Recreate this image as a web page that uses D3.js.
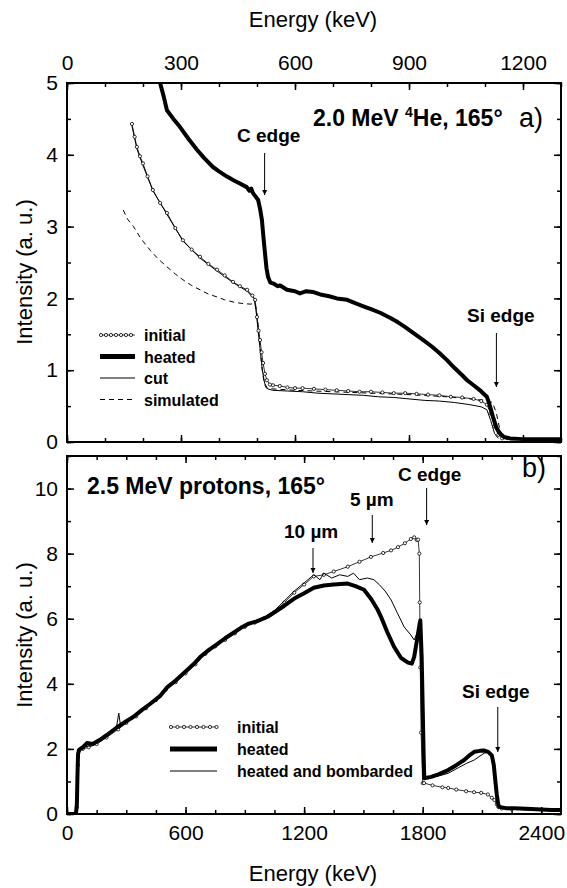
<!DOCTYPE html>
<meta charset="utf-8">
<style>
body { margin: 0; background: #fff; }
svg { font-family: "Liberation Sans", Arial, sans-serif; }
.frame { fill: none; stroke: #000; stroke-width: 2; }
.axis path { display: none; }
.axis line { stroke: #000; stroke-width: 1.5; }
.axis text { fill: #000; font-family: "Liberation Sans", Arial, sans-serif; }
.lbl { font-size: 22px; }
.bold { font-weight: bold; }
.leg { font-size: 16px; font-weight: bold; }
</style>
<svg width="567" height="888"></svg>
<script src="https://d3js.org/d3.v7.min.js"></script>
<script>
// panel a: 2.0 MeV 4He (energy keV, intensity a.u.)
var heatedA = [[245,5.0],[255,4.8],[263,4.62],[280,4.50],[297,4.39],[320,4.22],[342,4.07],[360,3.96],[384,3.83],[400,3.77],[420,3.70],[437,3.65],[455,3.60],[473,3.55],[480,3.50],[485,3.53],[489,3.47],[503,3.37],[508,3.25],[513,3.09],[517,2.85],[521,2.63],[525,2.42],[529,2.30],[535,2.22],[542,2.21],[555,2.17],[561,2.18],[579,2.12],[600,2.10],[613,2.07],[630,2.10],[647,2.09],[670,2.05],[690,2.03],[710,2.00],[737,1.98],[760,1.93],[780,1.89],[800,1.85],[824,1.80],[850,1.73],[870,1.67],[890,1.60],[911,1.52],[935,1.43],[960,1.33],[980,1.24],[1000,1.14],[1020,1.03],[1040,0.93],[1053,0.86],[1070,0.79],[1087,0.72],[1095,0.68],[1105,0.63],[1112,0.52],[1121,0.35],[1130,0.20],[1139,0.12],[1150,0.07],[1166,0.05],[1200,0.04],[1250,0.04],[1300,0.04]];
var initialA = [[171,4.43],[178,4.25],[184,4.11],[192,3.98],[200,3.88],[212,3.70],[226,3.51],[245,3.33],[263,3.19],[285,2.98],[305,2.81],[328,2.68],[350,2.58],[372,2.48],[395,2.40],[415,2.32],[437,2.23],[455,2.17],[474,2.12],[488,2.04],[495,1.98],[500,1.74],[504,1.55],[508,1.42],[512,1.25],[516,1.10],[521,0.95],[526,0.86],[534,0.80],[542,0.79],[560,0.78],[580,0.76],[600,0.75],[620,0.75],[650,0.74],[680,0.73],[710,0.72],[740,0.71],[770,0.70],[800,0.70],[830,0.69],[860,0.68],[890,0.68],[920,0.67],[950,0.66],[980,0.65],[1010,0.63],[1040,0.62],[1070,0.60],[1090,0.57],[1105,0.52],[1115,0.40],[1125,0.22],[1135,0.10],[1145,0.05]];
var cutA = [[171,4.40],[184,4.08],[200,3.85],[226,3.50],[263,3.17],[305,2.80],[350,2.56],[395,2.38],[437,2.22],[474,2.10],[492,2.00],[497,1.85],[502,1.60],[508,1.30],[514,1.00],[520,0.82],[528,0.74],[542,0.72],[580,0.71],[620,0.70],[660,0.68],[700,0.67],[740,0.66],[780,0.65],[820,0.63],[860,0.62],[900,0.60],[940,0.58],[980,0.57],[1020,0.55],[1060,0.52],[1090,0.49],[1105,0.45],[1115,0.30],[1125,0.12],[1135,0.05]];
var simA = [[148,3.23],[160,3.10],[175,3.00],[195,2.83],[219,2.67],[240,2.55],[263,2.44],[285,2.34],[305,2.26],[328,2.18],[350,2.12],[372,2.06],[395,2.02],[415,1.98],[437,1.95],[460,1.93],[482,1.92],[495,1.93],[500,1.80],[505,1.50],[510,1.20],[515,0.95],[520,0.80],[525,0.75],[540,0.74],[600,0.72],[700,0.70],[800,0.68],[900,0.66],[1000,0.63],[1060,0.60],[1100,0.58],[1120,0.55],[1130,0.40],[1138,0.20],[1148,0.06],[1160,0.03]];

// panel b: 2.5 MeV protons
var initialB = [[50,0.2],[55,1.5],[60,1.95],[80,2.0],[110,2.05],[150,2.15],[200,2.35],[259,2.6],[300,2.8],[350,3.0],[400,3.25],[450,3.5],[500,3.82],[550,4.05],[600,4.32],[650,4.6],[700,4.92],[750,5.15],[800,5.35],[850,5.55],[900,5.75],[950,5.88],[1000,6.02],[1050,6.2],[1100,6.5],[1150,6.8],[1200,7.05],[1249,7.3],[1300,7.35],[1350,7.45],[1421,7.6],[1480,7.75],[1538,7.9],[1600,8.02],[1640,8.1],[1675,8.2],[1710,8.32],[1740,8.45],[1757,8.5],[1770,8.42],[1777,8.43],[1783,8.0],[1785,6.5],[1788,4.5],[1792,2.5],[1800,0.95],[1807,0.95],[1850,0.88],[1900,0.82],[1929,0.8],[1970,0.75],[2020,0.7],[2060,0.67],[2096,0.65],[2130,0.6],[2150,0.5],[2163,0.43],[2175,0.3],[2183,0.22],[2200,0.17],[2250,0.15]];
var heatedB = [[0,0],[45,0],[50,0.3],[53,1.2],[56,1.85],[62,1.98],[80,2.05],[101,2.18],[130,2.15],[167,2.28],[200,2.42],[250,2.65],[300,2.85],[335,2.98],[380,3.2],[420,3.38],[470,3.62],[508,3.9],[550,4.1],[600,4.38],[640,4.6],[675,4.83],[720,5.05],[760,5.22],[800,5.4],[843,5.57],[880,5.72],[920,5.85],[960,5.92],[1015,6.06],[1050,6.2],[1100,6.4],[1150,6.62],[1200,6.78],[1249,6.95],[1300,7.02],[1350,7.05],[1421,7.08],[1460,7.0],[1503,6.89],[1540,6.6],[1570,6.3],[1589,6.06],[1620,5.6],[1655,5.14],[1690,4.8],[1726,4.65],[1745,4.62],[1757,4.83],[1770,5.3],[1782,5.75],[1788,5.95],[1795,4.8],[1800,3.3],[1805,1.8],[1808,1.1],[1843,1.14],[1880,1.22],[1929,1.35],[1970,1.5],[2010,1.66],[2040,1.82],[2061,1.91],[2090,1.94],[2110,1.95],[2132,1.91],[2150,1.8],[2160,1.5],[2168,1.0],[2175,0.6],[2182,0.3],[2188,0.22],[2220,0.18],[2264,0.18],[2350,0.15],[2450,0.12],[2500,0.12]];
var bombardedB = [[45,0],[50,0.5],[54,1.6],[58,1.95],[80,2.05],[120,2.1],[170,2.25],[220,2.5],[250,2.65],[262,3.1],[270,2.75],[300,2.85],[350,3.05],[400,3.3],[450,3.55],[500,3.85],[550,4.08],[600,4.35],[650,4.62],[700,4.95],[750,5.18],[800,5.38],[850,5.6],[900,5.78],[950,5.9],[1000,6.05],[1050,6.25],[1100,6.55],[1150,6.85],[1200,7.1],[1249,7.35],[1280,7.2],[1300,7.4],[1340,7.25],[1380,7.35],[1421,7.3],[1450,7.4],[1480,7.2],[1520,7.25],[1553,7.2],[1580,7.05],[1610,6.85],[1640,6.58],[1670,6.2],[1706,5.75],[1740,5.5],[1757,5.35],[1775,5.6],[1788,5.9],[1795,4.8],[1800,3.3],[1805,1.8],[1808,1.1],[1843,1.12],[1900,1.2],[1929,1.25],[1980,1.42],[2020,1.55],[2061,1.66],[2090,1.78],[2112,1.87],[2137,1.9],[2150,1.8],[2160,1.5],[2168,1.0],[2175,0.6],[2182,0.3],[2190,0.2],[2250,0.15],[2350,0.12],[2500,0.1]];

var ticksTopA = [0, 300, 600, 900, 1200];
var ticksLeftA = [0, 1, 2, 3, 4, 5];
var ticksBottomB = [0, 600, 1200, 1800, 2400];
var ticksLeftB = [0, 2, 4, 6, 8, 10];

var legendA = ["initial", "heated", "cut", "simulated"];
var legendB = ["initial", "heated", "heated and bombarded"];

var svg = d3.select("svg");
var left = 67, right = 561;

var panelA = {top: 83, bottom: 442};
var panelB = {top: 456, bottom: 814};

var xA = d3.scaleLinear().domain([0, 1300]).range([left, right]);
var yA = d3.scaleLinear().domain([0, 5]).range([panelA.bottom, panelA.top]);
var xB = d3.scaleLinear().domain([0, 2500]).range([left, right]);
var yB = d3.scaleLinear().domain([0, 11]).range([panelB.bottom, panelB.top]);

svg.append("defs").append("marker")
  .attr("id", "arr").attr("viewBox", "0 0 10 10").attr("refX", 10).attr("refY", 5)
  .attr("markerWidth", 5).attr("markerHeight", 9).attr("markerUnits", "userSpaceOnUse")
  .attr("orient", "auto")
  .append("path").attr("d", "M0,0L10,5L0,10Z").attr("fill", "#000");

function clip(id, x, y) {
  svg.select("defs").append("clipPath").attr("id", id)
    .append("rect").attr("x", x.range()[0]).attr("y", y.range()[1])
    .attr("width", x.range()[1] - x.range()[0]).attr("height", y.range()[0] - y.range()[1]);
}
clip("ca", xA, yA);
clip("cb", xB, yB);

function axes(x, y, majorX, minorX, majorY, minorY, labelTop) {
  var bot = y.range()[0], top = y.range()[1];
  var mk = function(axis, pos, vals, size, fmt, pad) {
    return svg.append("g").attr("class", "axis").attr("transform", pos)
      .call(axis.tickValues(vals).tickSize(size).tickPadding(pad || 0)
        .tickFormat(fmt ? d3.format("d") : ""));
  };
  // minor ticks
  mk(d3.axisBottom(x), "translate(0," + bot + ")", minorX, -4);
  mk(d3.axisTop(x), "translate(0," + top + ")", minorX, -4);
  mk(d3.axisLeft(y), "translate(" + left + ",0)", minorY, -4);
  mk(d3.axisRight(y), "translate(" + right + ",0)", minorY, -4);
  // major
  mk(d3.axisBottom(x), "translate(0," + bot + ")", majorX, -7, !labelTop, 11);
  mk(d3.axisTop(x), "translate(0," + top + ")", majorX, -7, labelTop, 13);
  mk(d3.axisLeft(y), "translate(" + left + ",0)", majorY, -7, true, 9);
  mk(d3.axisRight(y), "translate(" + right + ",0)", majorY, -7);
  svg.append("rect").attr("class", "frame")
    .attr("x", left).attr("y", top).attr("width", right - left).attr("height", bot - top);
}

axes(xA, yA, ticksTopA, d3.range(0, 1301, 100), ticksLeftA, d3.range(0, 5.01, 0.5), true);
axes(xB, yB, ticksBottomB, d3.range(0, 2501, 150), ticksLeftB, d3.range(0, 11.01, 1), false);

svg.selectAll(".axis text").style("font-size", "21px");

function curve(data, x, y, clipId, width, dash, dots) {
  var line = d3.line().x(function(d) { return x(d[0]); }).y(function(d) { return y(d[1]); });
  var g = svg.append("g").attr("clip-path", "url(#" + clipId + ")");
  g.append("path").datum(data).attr("d", line)
    .attr("fill", "none").attr("stroke", "#000").attr("stroke-width", width)
    .attr("stroke-linejoin", "round")
    .attr("stroke-dasharray", dash || null);
  if (dots) {
    g.selectAll("circle").data(data).enter().append("circle")
      .attr("cx", function(d) { return x(d[0]); })
      .attr("cy", function(d) { return y(d[1]); })
      .attr("r", 1.6).attr("fill", "#fff").attr("stroke", "#000").attr("stroke-width", 0.8);
  }
}

curve(simA, xA, yA, "ca", 1, "5,4");
curve(cutA, xA, yA, "ca", 1);
curve(initialA, xA, yA, "ca", 0.8, null, true);
curve(heatedA, xA, yA, "ca", 4);

curve(initialB, xB, yB, "cb", 0.8, null, true);
curve(bombardedB, xB, yB, "cb", 1);
curve(heatedB, xB, yB, "cb", 4);

// legends
var stylesA = [{w: 0.8, dots: true}, {w: 5}, {w: 1}, {w: 1, dash: "5,4"}];
legendA.forEach(function(name, i) {
  var yy = 335 + i * 21.5;
  var s = stylesA[i];
  svg.append("line").attr("x1", 100).attr("x2", 135).attr("y1", yy).attr("y2", yy)
    .attr("stroke", "#000").attr("stroke-width", s.w).attr("stroke-dasharray", s.dash || null);
  if (s.dots) {
    d3.range(101, 136, 5).forEach(function(cx) {
      svg.append("circle").attr("cx", cx).attr("cy", yy).attr("r", 1.6)
        .attr("fill", "#fff").attr("stroke", "#000").attr("stroke-width", 0.8);
    });
  }
  svg.append("text").attr("class", "leg").attr("x", 144).attr("y", yy + 6).text(name);
});
var stylesB = [{w: 0.8, dots: true}, {w: 5}, {w: 1}];
legendB.forEach(function(name, i) {
  var yy = 727 + i * 22;
  var s = stylesB[i];
  svg.append("line").attr("x1", 170).attr("x2", 217).attr("y1", yy).attr("y2", yy)
    .attr("stroke", "#000").attr("stroke-width", s.w);
  if (s.dots) {
    d3.range(171, 218, 6.5).forEach(function(cx) {
      svg.append("circle").attr("cx", cx).attr("cy", yy).attr("r", 1.6)
        .attr("fill", "#fff").attr("stroke", "#000").attr("stroke-width", 0.8);
    });
  }
  svg.append("text").attr("class", "leg").attr("x", 237).attr("y", yy + 6).text(name);
});

// axis titles
svg.append("text").attr("class", "lbl").attr("x", 313).attr("y", 27).attr("text-anchor", "middle").text("Energy (keV)");
svg.append("text").attr("class", "lbl").attr("x", 313).attr("y", 881).attr("text-anchor", "middle").text("Energy (keV)");
[[yA, 272], [yB, 635]].forEach(function(p) {
  svg.append("text").attr("class", "lbl").attr("text-anchor", "middle")
    .attr("transform", "translate(32," + p[1] + ") rotate(-90)").text("Intensity (a. u.)");
});

// panel titles
var tA = svg.append("text").attr("class", "bold").attr("x", 313).attr("y", 126).style("font-size", "23px");
tA.append("tspan").text("2.0 MeV ");
tA.append("tspan").attr("dy", -9).style("font-size", "14px").text("4");
tA.append("tspan").attr("dy", 9).text("He, 165");
tA.append("tspan").text("\u00b0");
svg.append("text").attr("x", 519).attr("y", 127).style("font-size", "27px").text("a)");

svg.append("text").attr("class", "bold").attr("x", 87).attr("y", 494).style("font-size", "23px").text("2.5 MeV protons, 165\u00b0");
svg.append("text").attr("x", 522).attr("y", 477).style("font-size", "27px").text("b)");

// annotations with arrows
function note(text, tx, ty, ax, y1, y2) {
  svg.append("text").attr("class", "bold").attr("x", tx).attr("y", ty).style("font-size", "19px").text(text);
  svg.append("line").attr("x1", ax).attr("x2", ax).attr("y1", y1).attr("y2", y2)
    .attr("stroke", "#000").attr("stroke-width", 1).attr("marker-end", "url(#arr)");
}
note("C edge", 237, 142, xA(520), 153, 195);
note("Si edge", 467, 322, xA(1130), 333, 387);
note("C edge", 398, 481, xB(1820), 488, 525);
note("5 \u00b5m", 350, 506, xB(1545), 515, 543);
note("10 \u00b5m", 284, 538, xB(1245), 548, 573);
note("Si edge", 462, 698, xB(2180), 707, 752);
</script>
